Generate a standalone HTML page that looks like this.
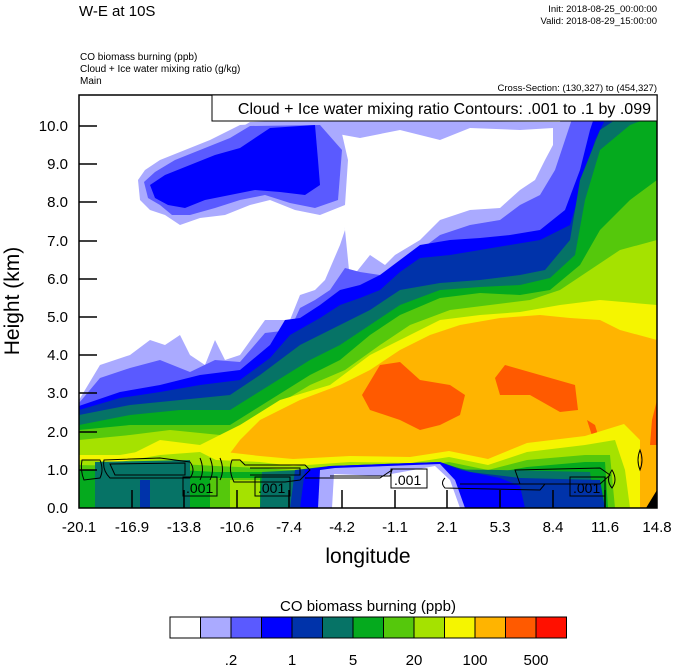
<!DOCTYPE html>
<html><head><meta charset="utf-8"><style>
body{margin:0;background:#fff;width:674px;height:667px;overflow:hidden}
svg text{font-family:"Liberation Sans",sans-serif;fill:#000}
</style></head><body>
<svg width="674" height="667" viewBox="0 0 674 667" xmlns="http://www.w3.org/2000/svg">
<defs><clipPath id="c"><rect x="79" y="95" width="578" height="413"/></clipPath></defs>
<g clip-path="url(#c)">
<rect x="79" y="95" width="578" height="413" fill="#fff"/>
<polygon fill="#aaaaff" points="79,400 100,365 130,355 150,340 165,345 180,335 190,355 205,365 215,340 225,360 240,355 265,320 290,320 300,295 315,290 325,280 340,245 345,230 338,132 300,126 240,128 250,122 310,120 560,122 570,100 657,95 657,508 79,508"/>
<polygon fill="#fff" points="338,134 360,138 400,130 440,140 470,128 520,130 553,128 553,145 545,160 535,180 520,190 500,208 470,210 440,220 420,240 395,255 385,265 370,255 350,280 345,230 340,200 335,160"/>
<polygon fill="#aaaaff" points="138,180 145,170 160,160 185,150 210,140 240,125 300,122 340,125 348,160 345,205 320,215 295,210 270,200 250,205 225,215 200,218 180,225 165,215 150,210 140,200"/>
<polygon fill="#5a5aff" points="144,182 155,172 175,160 200,150 230,138 250,126 320,125 342,150 338,200 315,208 290,203 265,195 240,200 215,208 190,215 172,215 160,205 148,198"/>
<polygon fill="#0000ff" points="150,185 165,175 190,165 215,155 240,148 270,128 315,125 318,160 320,185 305,195 280,192 255,190 230,195 205,200 185,208 168,205 155,198"/>
<polygon fill="#5a5aff" points="79,403 100,378 130,368 160,360 190,372 215,360 240,362 265,333 290,330 300,308 315,300 330,290 345,268 360,272 380,275 400,262 420,250 440,235 470,225 500,220 520,205 540,195 555,170 565,140 575,110 590,95 657,95 657,508 79,508"/>
<polygon fill="#0000ff" points="79,406 120,392 160,385 200,375 240,370 270,345 285,320 300,318 320,305 340,290 360,285 380,275 400,260 420,245 450,240 480,238 510,235 540,230 565,210 580,170 590,130 600,100 657,95 657,508 79,508"/>
<polygon fill="#0033aa" points="79,410 120,398 160,392 200,385 240,380 270,358 290,335 320,318 340,305 360,298 380,290 400,272 420,258 450,255 480,250 510,245 540,240 570,225 582,185 595,140 610,110 657,98 657,508 79,508"/>
<polygon fill="#067366" points="79,415 130,405 180,400 230,395 260,375 300,345 340,325 370,310 400,290 440,283 480,280 520,275 545,270 570,240 580,180 600,130 630,110 657,100 657,508 79,508"/>
<polygon fill="#05aa1e" points="79,425 130,415 180,410 230,410 270,385 310,360 340,345 370,325 400,305 440,290 480,287 520,285 550,278 575,255 585,200 600,150 630,125 657,115 657,508 79,508"/>
<polygon fill="#55c80c" points="79,430 130,425 180,425 230,425 270,400 310,375 340,360 370,335 400,315 440,298 480,293 520,295 550,290 580,265 600,230 630,200 657,180 657,508 79,508"/>
<polygon fill="#a5e200" points="79,440 130,435 170,430 220,435 260,415 310,385 345,370 380,345 410,325 450,310 490,305 530,300 560,290 590,270 620,250 657,240 657,508 79,508"/>
<polygon fill="#f5f500" points="79,462 130,455 160,440 200,445 240,425 280,400 330,385 370,355 400,340 440,320 480,315 520,312 560,305 600,300 657,305 657,508 79,508"/>
<polygon fill="#ffb400" points="150,508 160,460 200,455 225,460 240,440 260,420 300,400 340,385 370,370 400,350 430,335 460,325 500,318 540,315 570,318 600,320 620,330 657,340 657,508"/>
<polygon fill="#ff5a00" points="362,395 380,365 400,362 420,380 450,385 465,395 460,415 440,425 420,430 400,420 370,410"/>
<polygon fill="#ff5a00" points="495,378 505,365 540,375 575,385 578,410 560,412 530,395 500,395"/>
<polygon fill="#ff5a00" points="587,420 595,425 602,448 596,448"/>
<polygon fill="#ff5a00" points="652,420 657,400 657,445 650,445"/>
<polygon fill="#f5f500" points="79,508 79,455 120,455 160,448 200,445 216,451 260,456 293,459 350,456 410,457 449,451 488,459 527,443 585,436 624,424 640,440 640,508"/>
<polygon fill="#a5e200" points="79,508 79,460 120,462 160,455 200,452 216,460 260,462 293,466 350,462 410,463 449,457 488,465 527,452 585,445 615,440 625,470 630,508"/>
<polygon fill="#55c80c" points="79,508 79,465 130,466 180,464 216,466 260,468 293,470 350,468 410,468 449,462 488,470 527,460 585,455 610,455 615,508"/>
<polygon fill="#05aa1e" points="79,508 79,470 130,470 180,470 216,472 260,472 293,473 350,472 410,470 449,466 488,474 527,467 585,462 605,462 608,508"/>
<polygon fill="#067366" points="95,508 95,462 190,460 190,508"/>
<rect x="140" y="480" width="10" height="28" fill="#0033aa"/>
<rect x="160" y="480" width="30" height="28" fill="#067366"/>
<rect x="210" y="478" width="50" height="30" fill="#55c80c"/>
<rect x="230" y="480" width="30" height="28" fill="#a5e200"/>
<polygon fill="#067366" points="260,508 262,472 300,470 330,468 500,470 590,472 595,508"/>
<polygon fill="#0033aa" points="290,508 295,470 330,466 440,462 470,472 520,478 600,480 605,508"/>
<polygon fill="#0000ff" points="300,508 305,470 330,466 440,462 460,470 500,478 520,486 525,508"/>
<polygon fill="#aaaaff" points="318,508 320,470 335,468 440,464 455,480 465,508"/>
<polygon fill="#fff" points="332,508 334,474 380,476 435,466 450,480 460,508"/>
<polygon fill="#000" points="646,508 657,490 657,508"/>
<g fill="none" stroke="#000" stroke-width="1">
<path d="M82,460 Q80,470 84,480 L100,478 Q104,470 100,460 Z"/>
<path d="M104,460 L160,458 L190,462 Q196,470 190,478 L110,478 Q102,470 104,460 Z"/>
<path d="M110,464 L185,463 L185,475 L115,475 Z"/>
<path d="M200,458 Q205,470 200,480 M210,458 Q215,470 210,480 M220,458 Q225,470 220,480"/>
<path d="M232,460 Q228,470 234,482 L285,482 L300,480 L310,470 L305,465 L245,465 L240,460 Z"/>
<path d="M250,468 L300,468 L300,475 L250,475"/>
<path d="M305,478 L380,478 L392,470 L390,476 L330,476"/>
<path d="M445,478 Q440,483 445,488 L540,490 L545,484 L460,484"/>
<path d="M515,470 L600,468 L610,475 L600,484 L520,484 Z"/>
<path d="M612,470 Q605,480 612,488 Q618,480 612,470 Z"/>
<path d="M640,450 Q636,460 640,470 Q644,460 640,450 Z"/>
</g>
<g font-size="14">
<rect x="183" y="477" width="34" height="19" fill="none" stroke="#000"/><text x="186" y="493">.001</text>
<rect x="255" y="477" width="35" height="19" fill="none" stroke="#000"/><text x="258" y="493">.001</text>
<rect x="391" y="469" width="36" height="19" fill="none" stroke="#000"/><text x="394" y="485">.001</text>
<rect x="570" y="477" width="35" height="19" fill="none" stroke="#000"/><text x="573" y="493">.001</text>
</g>
</g>
<rect x="79" y="95" width="578" height="413" fill="none" stroke="#000" stroke-width="1.5"/>
<g stroke="#000" stroke-width="1.5">
<line x1="79" y1="126" x2="97" y2="126"/><line x1="79" y1="164" x2="97" y2="164"/><line x1="79" y1="202" x2="97" y2="202"/><line x1="79" y1="241" x2="97" y2="241"/><line x1="79" y1="279" x2="97" y2="279"/><line x1="79" y1="317" x2="97" y2="317"/><line x1="79" y1="355" x2="97" y2="355"/><line x1="79" y1="393" x2="97" y2="393"/><line x1="79" y1="432" x2="97" y2="432"/><line x1="79" y1="470" x2="97" y2="470"/>
<line x1="132" y1="508" x2="132" y2="490"/><line x1="184" y1="508" x2="184" y2="490"/><line x1="237" y1="508" x2="237" y2="490"/><line x1="289" y1="508" x2="289" y2="490"/><line x1="342" y1="508" x2="342" y2="490"/><line x1="395" y1="508" x2="395" y2="490"/><line x1="447" y1="508" x2="447" y2="490"/><line x1="500" y1="508" x2="500" y2="490"/><line x1="553" y1="508" x2="553" y2="490"/><line x1="605" y1="508" x2="605" y2="490"/>
</g>
<rect x="212" y="95" width="445" height="26" fill="#fff" stroke="#000"/>
<text x="651" y="114" font-size="16" text-anchor="end">Cloud + Ice water mixing ratio Contours: .001 to .1 by .099</text>
<g font-size="15" text-anchor="end">
<text x="68" y="131">10.0</text><text x="68" y="169">9.0</text><text x="68" y="207">8.0</text><text x="68" y="246">7.0</text><text x="68" y="284">6.0</text><text x="68" y="322">5.0</text><text x="68" y="360">4.0</text><text x="68" y="398">3.0</text><text x="68" y="437">2.0</text><text x="68" y="475">1.0</text><text x="68" y="513">0.0</text>
</g>
<g font-size="15" text-anchor="middle">
<text x="79" y="532">-20.1</text><text x="132" y="532">-16.9</text><text x="184" y="532">-13.8</text><text x="237" y="532">-10.6</text><text x="289" y="532">-7.4</text><text x="342" y="532">-4.2</text><text x="395" y="532">-1.1</text><text x="447" y="532">2.1</text><text x="500" y="532">5.3</text><text x="553" y="532">8.4</text><text x="605" y="532">11.6</text><text x="657" y="532">14.8</text>
</g>
<text x="368" y="563" font-size="21" text-anchor="middle">longitude</text>
<text transform="translate(19,301) rotate(-90)" font-size="21" text-anchor="middle">Height (km)</text>
<text x="79" y="16" font-size="15">W-E at 10S</text>
<g font-size="9.5" text-anchor="end">
<text x="657" y="12">Init: 2018-08-25_00:00:00</text>
<text x="657" y="24">Valid: 2018-08-29_15:00:00</text>
<text x="657" y="91">Cross-Section: (130,327) to (454,327)</text>
</g>
<g font-size="10">
<text x="80" y="60">CO biomass burning   (ppb)</text>
<text x="80" y="72">Cloud + Ice water mixing ratio   (g/kg)</text>
<text x="80" y="84">Main</text>
</g>
<text x="368" y="611" font-size="15" text-anchor="middle">CO biomass burning  (ppb)</text>
<g stroke="#000" stroke-width="1">
<rect x="170" y="617" width="30.5" height="21" fill="#ffffff"/>
<rect x="200.5" y="617" width="30.5" height="21" fill="#aaaaff"/>
<rect x="231" y="617" width="30.5" height="21" fill="#5a5aff"/>
<rect x="261.5" y="617" width="30.5" height="21" fill="#0000ff"/>
<rect x="292" y="617" width="30.5" height="21" fill="#0033aa"/>
<rect x="322.5" y="617" width="30.5" height="21" fill="#067366"/>
<rect x="353" y="617" width="30.5" height="21" fill="#05aa1e"/>
<rect x="383.5" y="617" width="30.5" height="21" fill="#55c80c"/>
<rect x="414" y="617" width="30.5" height="21" fill="#a5e200"/>
<rect x="444.5" y="617" width="30.5" height="21" fill="#f5f500"/>
<rect x="475" y="617" width="30.5" height="21" fill="#ffb400"/>
<rect x="505.5" y="617" width="30.5" height="21" fill="#ff5a00"/>
<rect x="536" y="617" width="30.5" height="21" fill="#ff1000"/>
</g>
<g font-size="15" text-anchor="middle">
<text x="231" y="665">.2</text><text x="292" y="665">1</text><text x="353" y="665">5</text><text x="414" y="665">20</text><text x="475" y="665">100</text><text x="536" y="665">500</text>
</g>
</svg>
</body></html>
